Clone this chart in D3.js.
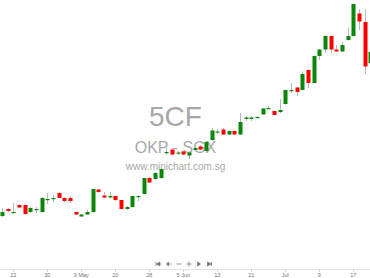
<!DOCTYPE html>
<html>
<head>
<meta charset="utf-8">
<script src="https://cdn.jsdelivr.net/npm/d3@7"></script>
<style>
  body { margin: 0; background: #fff; }
  svg { display: block; font-family: "Liberation Sans", Arial, sans-serif; }
</style>
</head>
<body>
<svg id="chart" width="370" height="278"></svg>
<script>
// daily OHLC (one entry per trading day)
const opens  = [0.157,0.1605,0.15875,0.1625,0.1625,0.159,0.16025,0.159,0.16525,0.16575,
                0.1685,0.166,0.166,0.159,0.15675,0.15775,0.159,0.17025,0.16725,0.16625,
                0.167,0.165,0.1605,0.1615,0.16675,0.168,0.176,0.1755,0.176,0.1885,
                0.19025,0.18825,0.18925,0.18725,0.19,0.19175,0.1895,0.195,0.199,0.20025,
                0.19775,0.1995,0.19775,0.2055,0.2055,0.20625,0.20775,0.21075,0.2095,0.209,
                0.213,0.21975,0.22125,0.22,0.23,0.2235,0.237,0.24025,0.247,0.24025,
                0.23925,0.245,0.247,0.25825,0.254,0.2335];
const closes = [0.159,0.1595,0.159,0.16125,0.158,0.161,0.1605,0.166,0.1655,0.166,
                0.166,0.1645,0.1645,0.15775,0.15775,0.159,0.1705,0.169,0.16625,0.167,
                0.165,0.1605,0.1615,0.167,0.167,0.176,0.17375,0.1785,0.1805,0.189,
                0.18775,0.18875,0.18775,0.18875,0.191,0.19025,0.194,0.19975,0.19925,0.19775,
                0.1995,0.19775,0.204,0.20625,0.20625,0.2065,0.21075,0.211,0.2075,0.21,
                0.22,0.22,0.219,0.228,0.2235,0.237,0.24025,0.247,0.24025,0.23925,
                0.2425,0.247,0.263,0.25425,0.23175,0.239];
const highs  = [0.161,0.161,0.1635,0.163,0.163,0.1615,0.1615,0.1665,0.1685,0.1675,
                0.169,0.1665,0.167,0.159,0.158,0.16,0.1705,0.1705,0.169,0.169,
                0.167,0.165,0.162,0.167,0.16725,0.176,0.1765,0.179,0.181,0.191,
                0.191,0.1895,0.1895,0.189,0.192,0.1925,0.1945,0.201,0.2005,0.201,
                0.2,0.19975,0.2085,0.207,0.207,0.207,0.211,0.212,0.20975,0.2155,
                0.22025,0.2235,0.2215,0.22925,0.2305,0.23725,0.2405,0.2475,0.24725,0.2425,
                0.244,0.25125,0.263,0.2605,0.2605,0.24];
const lows   = [0.1565,0.159,0.1585,0.161,0.1575,0.1585,0.1585,0.1585,0.163,0.164,
                0.166,0.164,0.1635,0.1575,0.1565,0.1575,0.1585,0.1685,0.166,0.166,
                0.1645,0.16025,0.16,0.1615,0.1645,0.168,0.1735,0.175,0.1755,0.1875,
                0.1875,0.1875,0.1875,0.1855,0.1895,0.19,0.189,0.1945,0.198,0.1975,
                0.1975,0.1975,0.1975,0.2045,0.2045,0.206,0.2075,0.2105,0.20725,0.2085,
                0.21275,0.2185,0.217,0.21975,0.221,0.22325,0.235,0.2385,0.2385,0.239,
                0.239,0.24475,0.24675,0.25,0.228,0.233];

// date labels on the axis and the trading day they sit on
const tickDays   = [2, 8, 14, 20, 26, 32, 38, 44, 50, 56, 62];
const tickLabels = ["22", "30", "9 May", "20", "28", "5 Jun", "13", "21", "Jul", "9", "17"];

const width = 370, height = 278;
const svg = d3.select("#chart");

const candles = opens.map((o, i) => ({
    i: i, open: o, close: closes[i], high: highs[i], low: lows[i]
}));

let x = d3.scaleLinear()
    .domain([0, candles.length - 1])
    .range([2, 370.3]);

let y = d3.scaleLinear()
    .domain([0.150, 0.265])
    .range([230, 0]);

// watermark behind the candles
let wm = svg.append("g")
    .attr("class", "watermark")
    .attr("fill", "#a8a8a8")
    .attr("text-anchor", "middle");

wm.append("text")
    .attr("x", 175.5).attr("y", 126)
    .attr("font-size", 28)
    .text("5CF");

wm.append("text")
    .attr("x", 175.5).attr("y", 152.5)
    .attr("font-size", 16)
    .text("OKP - SGX");

wm.append("text")
    .attr("x", 175.5).attr("y", 170)
    .attr("font-size", 10)
    .text("www.minichart.com.sg");

// candles
let bodyW = 4;
let g = svg.append("g").attr("class", "candles");

let c = g.selectAll("g.candle")
    .data(candles)
    .enter().append("g")
    .attr("class", "candle");

c.append("line")
    .attr("x1", d => Math.round(x(d.i)) + 0.5)
    .attr("x2", d => Math.round(x(d.i)) + 0.5)
    .attr("y1", d => y(d.high))
    .attr("y2", d => y(d.low))
    .attr("stroke", "#b8b8b8")
    .attr("stroke-width", 1);

c.append("rect")
    .attr("x", d => Math.round(x(d.i)) + 0.5 - bodyW / 2)
    .attr("width", bodyW)
    .attr("y", d => y(Math.max(d.open, d.close)))
    .attr("height", d => Math.max(1.2, Math.abs(y(d.open) - y(d.close))))
    .attr("fill", d => d.close >= d.open ? "#0a870a" : "#ff0000");

// navigator buttons
let nav = svg.append("g")
    .attr("class", "nav")
    .attr("fill", "#777")
    .attr("stroke", "#777");

let navY = 264;
let navPaths = [
    {x: 158, d: "M-2,-2V2M2,-2L-1.5,0L2,2Z"},
    {x: 169, d: "M-0.5,-2L-2.5,0L-0.5,2ZM-0.5,0H2.5"},
    {x: 179, d: "M-2.5,0H2.5"},
    {x: 189, d: "M-2.5,0H2.5M0,-2.5V2.5"},
    {x: 199, d: "M-1.5,-2L1.5,0L-1.5,2Z"},
    {x: 209.5, d: "M-2,-2L1.5,0L-2,2ZM2,-2V2"}
];

nav.selectAll("path")
    .data(navPaths)
    .enter().append("path")
    .attr("transform", d => "translate(" + d.x + "," + navY + ")")
    .attr("d", d => d.d)
    .attr("stroke-width", 0.8);

// date axis
svg.append("line")
    .attr("x1", 0).attr("x2", width)
    .attr("y1", 269.5).attr("y2", 269.5)
    .attr("stroke", "#e3e3e3");

let axis = svg.append("g")
    .attr("class", "axis")
    .attr("font-size", 5.5)
    .attr("fill", "#777")
    .attr("text-anchor", "middle");

axis.selectAll("line")
    .data(tickDays)
    .enter().append("line")
    .attr("x1", d => Math.round(x(d)) + 0.5)
    .attr("x2", d => Math.round(x(d)) + 0.5)
    .attr("y1", 269.5).attr("y2", 272)
    .attr("stroke", "#d5d5d5");

axis.selectAll("text")
    .data(tickDays)
    .enter().append("text")
    .attr("x", d => x(d))
    .attr("y", 276.5)
    .text((d, i) => tickLabels[i]);
</script>
</body>
</html>
